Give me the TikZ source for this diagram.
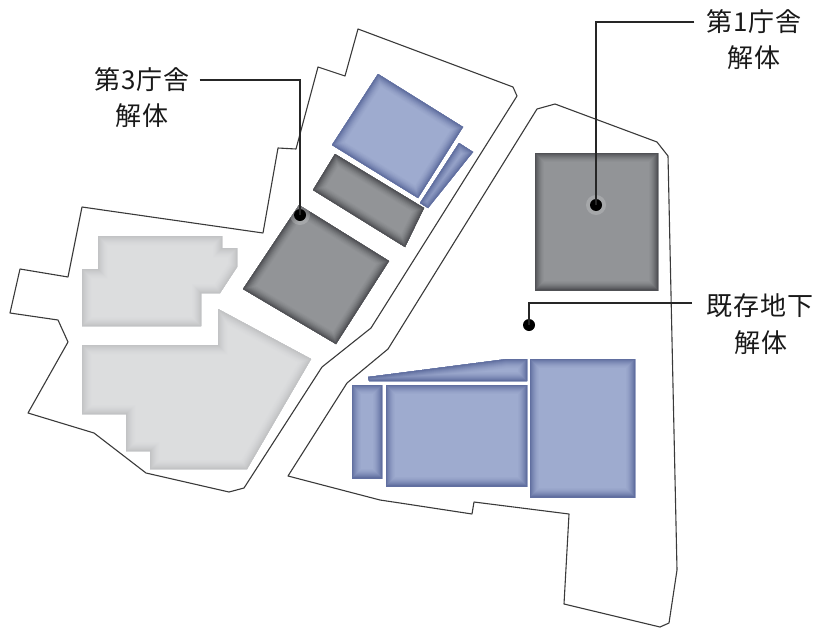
\documentclass[tikz,border=0pt]{standalone}
\usepackage{fontspec}
\newfontfamily\jpfont[LetterSpace=3]{Noto Sans CJK JP}
\definecolor{siteline}{HTML}{3A3A3A}
\definecolor{grayB}{HTML}{929497}\definecolor{grayE}{HTML}{505155}
\definecolor{blueB}{HTML}{9EABCF}\definecolor{blueE}{HTML}{616FA0}
\definecolor{paleB}{HTML}{DCDDDE}\definecolor{paleE}{HTML}{C2C3C5}
\newcommand{\insetshape}[3]{%
  \begin{scope}
    \clip #1;
    \fill[#2] #1;
    \foreach \w/\p in {18/6,16/12,14/20,12/30,10/41,8/54,6/67,4/82,2/100}
      \draw[line width=\w pt,line join=miter,color=#3!\p!#2] #1;
  \end{scope}}
\tikzset{
  sitepath/.style={draw=siteline,line width=1.1pt,line join=round,fill=white},
  leader/.style={draw=black!85,line width=1.5pt,line join=miter},
  dotmark/.style={circle,fill=black,inner sep=0pt,minimum size=12pt},
  lab/.style={font=\jpfont\fontsize{26}{26}\selectfont,inner sep=0pt,text=black!90,anchor=center}
}
\begin{document}
\begin{tikzpicture}[x=1pt,y=-1pt]
\useasboundingbox (0,0) rectangle (821,629);
% site outlines
\path[sitepath] (358,29) -- (345,76) -- (318,67) -- (296,149) -- (278,148) -- (263,233) -- (82,207) -- (68,277) -- (20,269) -- (10,313) -- (58,320) -- (68,342) -- (28,413) -- (94,433) -- (146,473) -- (229,492) -- (244,488) -- (322,367) -- (371,328) -- (517,96) -- (513,87) -- cycle;
\path[sitepath] (288,476) -- (380,500) -- (400,503) -- (472,514) -- (474,502) -- (569,514) -- (564,604) -- (660,627) -- (669,623) -- (677,570) -- (668,156) -- (657,142) -- (555,104) -- (537,109) -- (388,349) -- (347,383) -- cycle;
% pale buildings
\insetshape{(98,236) -- (222,236) -- (222,248) -- (237,248) -- (237,267) -- (220,293) -- (201,293) -- (201,326) -- (82,326) -- (82,269) -- (98,269) -- cycle}{paleB}{paleE}
\insetshape{(82,345) -- (218,345) -- (218,309) -- (311,359) -- (247,469) -- (150,469) -- (150,451) -- (126,451) -- (126,414) -- (82,414) -- cycle}{paleB}{paleE}
% grey buildings
\insetshape{(299,205) -- (389,261) -- (336,344) -- (243,289) -- cycle}{grayB}{grayE}
\insetshape{(335,154) -- (424,208) -- (405,247) -- (313,190) -- cycle}{grayB}{grayE}
\insetshape{(535,153) -- (658,153) -- (658,290) -- (535,290) -- cycle}{grayB}{grayE}
% blue buildings
\insetshape{(378,74) -- (463,127) -- (418,198) -- (332,145) -- cycle}{blueB}{blueE}
\insetshape{(459,143) -- (473,152) -- (428,208) -- (420,203) -- cycle}{blueB}{blueE}
\insetshape{(530,359) -- (635,359) -- (635,497) -- (530,497) -- cycle}{blueB}{blueE}
\insetshape{(386,385) -- (527,385) -- (527,486) -- (386,486) -- cycle}{blueB}{blueE}
\insetshape{(352,385) -- (382,385) -- (382,478) -- (352,478) -- cycle}{blueB}{blueE}
\insetshape{(368,377) -- (507,359) -- (527,359) -- (527,381) -- (369,381) -- cycle}{blueB}{blueE}
% halos and dots
\fill[white,opacity=.18] (596,205) circle (10pt);
\fill[white,opacity=.18] (300,215) circle (10pt);
\node[dotmark] (d1) at (596,205) {};
\node[dotmark] (d3) at (300,215) {};
\node[dotmark] (dk) at (529,325) {};
% labels
\node[lab] (l3a) at (142,80) {第3庁舎};
\node[lab] (l3b) at (142,116) {解体};
\node[lab] (l1a) at (754,22) {第1庁舎};
\node[lab] (l1b) at (754,58) {解体};
\node[lab] (lka) at (760,306) {既存地下};
\node[lab] (lkb) at (761,343) {解体};
% leaders
\coordinate (s3) at ([xshift=10pt]l3a.east);
\coordinate (s1) at ([xshift=-12pt]l1a.west);
\coordinate (sk) at (692,303);
\draw[leader] (s3) -| (d3.center);
\draw[leader] (s1) -| (d1.center);
\draw[leader] (sk) -| (dk.center);
\end{tikzpicture}
\end{document}
